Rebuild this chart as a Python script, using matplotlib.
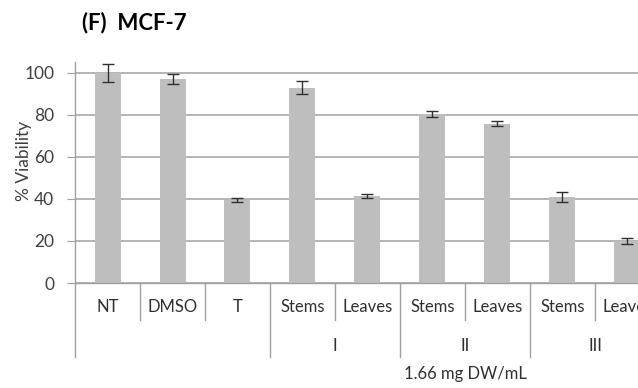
import matplotlib
matplotlib.use("Agg")
import matplotlib.pyplot as plt
from matplotlib.transforms import blended_transform_factory

plt.rcParams['font.family'] = ['Lato', 'DejaVu Sans']

categories = ["NT", "DMSO", "T", "Stems", "Leaves", "Stems", "Leaves", "Stems", "Leaves"]
viability = [100, 97, 39.5, 93, 41.5, 80.5, 75.7, 41, 20]
errors = [4.2, 2.3, 0.9, 3.2, 1.0, 1.6, 1.2, 2.4, 1.2]
groups = ["I", "II", "III"]
dose_label = "1.66 mg DW/mL"
yticks = [0, 20, 40, 60, 80, 100]

fig = plt.figure(figsize=(6.38, 3.88), dpi=100)
ax = fig.add_axes([75 / 638, 1 - 283 / 388, 585 / 638, 221 / 388])

x = list(range(len(categories)))
ax.bar(x, viability, width=0.4, color="#BEBEBE", zorder=2)
ax.errorbar(x, viability, yerr=errors, fmt="none", ecolor="#303030",
            elinewidth=1.0, capsize=4, capthick=1.0, zorder=3)

ax.set_xlim(-0.5, len(categories) - 0.5)
ax.set_ylim(0, 105.2)
ax.set_yticks(yticks)
ax.set_yticklabels([str(t) for t in yticks], fontsize=12.5, color="#404040")
ax.tick_params(axis="y", length=6, color="#A0A0A0", pad=9)
ax.set_xticks([])
ax.yaxis.grid(True, color="#A8A8A8", linewidth=1.2, zorder=0)
ax.set_axisbelow(True)
for s in ["top", "right"]:
    ax.spines[s].set_visible(False)
ax.spines["left"].set_color("#A0A0A0")
ax.spines["bottom"].set_color("#A0A0A0")
ax.spines["left"].set_linewidth(1.0)
ax.spines["bottom"].set_linewidth(1.0)

ax.set_ylabel("% Viability", fontsize=12.5, color="#404040")
ax.yaxis.set_label_coords((32 - 75) / 585, 0.552)

trans = blended_transform_factory(ax.transData, ax.transAxes)
line_kw = dict(color="#A0A0A0", linewidth=1.0, clip_on=False, transform=trans)
label_kw = dict(transform=trans, ha="center", va="center", fontsize=12,
                color="#303030", clip_on=False)

# first level: category names and short separators
for i, c in enumerate(categories):
    ax.text(i, -0.109, c, **label_kw)
group_bounds = [-0.5, 2.5, 4.5, 6.5]
for b in range(len(categories)):
    edge = b + 0.5
    if edge in group_bounds:
        continue
    ax.plot([edge, edge], [0, -0.167], **line_kw)

# second level: extract groups and long separators
for b in group_bounds:
    ax.plot([b, b], [0, -0.335], **line_kw)
for gi, g in enumerate(groups):
    ax.text(3.5 + 2 * gi, -0.285, g, **label_kw)

# third level: dose
ax.text(5.5, -0.412, dose_label, **label_kw)

fig.text(82 / 638, 1 - 23 / 388, "(F)  MCF-7", fontsize=16, fontweight="bold",
         ha="left", va="center", color="black")

fig.savefig("out.png", dpi=100)
